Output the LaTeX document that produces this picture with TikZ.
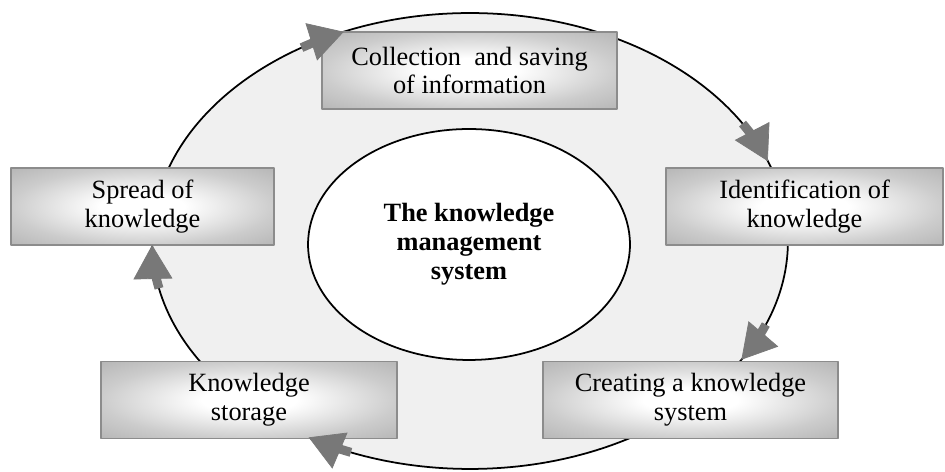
\documentclass[tikz,border=0pt]{standalone}
\usepackage{fontspec}
\setmainfont{Liberation Serif}
\usepackage{tikz}
\usetikzlibrary{shapes.geometric,arrows.meta,calc}
\definecolor{eeeeee}{rgb}{0.94,0.94,0.94}
\definecolor{cccccc}{rgb}{0.8,0.8,0.8}
\definecolor{bbbbbb}{rgb}{0.71,0.71,0.71}
\definecolor{aaaaaa}{rgb}{0.55,0.55,0.55}
\definecolor{wwwwww}{rgb}{0.47,0.47,0.47}
% light in the middle, grey towards the edges of a box
\pgfdeclareradialshading{boxglow}{\pgfpoint{0bp}{0bp}}{color(0bp)=(white); color(8bp)=(white); color(25bp)=(cccccc); color(36bp)=(bbbbbb); color(50bp)=(bbbbbb)}

\begin{document}
\begin{tikzpicture}[line cap=round,line join=round,x=0.02cm,y=0.02cm,
  font=\fontsize{15}{16.5}\selectfont,
  stagebox/.style={draw=aaaaaa,line width=0.8pt,shading=boxglow,minimum height=1.54cm,inner sep=0pt,align=center},
  flow/.style={draw=wwwwww,line width=0.18cm,line cap=butt,-{Triangle[length=0.68cm,width=0.78cm,line width=0.4pt]}}]
\useasboundingbox (0,0) rectangle (945,472);
\coordinate (mid) at (470,231);
% the cycle and its centre
\draw [line width=1pt,fill=eeeeee] (mid) ellipse [x radius=6.36cm,y radius=4.56cm];
\node [draw,ellipse,fill=white,line width=1pt,minimum width=6.44cm,minimum height=4.62cm,align=center,font=\fontsize{15}{16.5}\selectfont\bfseries] (kms) at (469,227.5) {The knowledge\\management\\system};
% stages
\node [stagebox,minimum width=5.9cm] (collect) at (469.5,401.5) {Collection\ \ and saving\\of information};
\node [stagebox,minimum width=5.54cm] (ident) at (804.5,265.5) {Identification of\\knowledge};
\node [stagebox,minimum width=5.9cm] (create) at (690.5,72) {Creating a knowledge\\system};
\node [stagebox,minimum width=5.92cm] (storage) at (249,72) {Knowledge\\storage};
\node [stagebox,minimum width=5.26cm] (spread) at (142.5,265.5) {Spread of\\knowledge};
% arrows along the ring, clockwise
\draw [flow] ($(mid)+(122:6.36cm and 4.56cm)$) arc [start angle=122,end angle=113.4,x radius=6.36cm,y radius=4.56cm];
\draw [flow] ($(mid)+(31:6.36cm and 4.56cm)$) arc [start angle=31,end angle=20.5,x radius=6.36cm,y radius=4.56cm];
\draw [flow] ($(mid)+(-21.5:6.36cm and 4.56cm)$) arc [start angle=-21.5,end angle=-31.4,x radius=6.36cm,y radius=4.56cm];
\draw [flow] ($(mid)+(248:6.36cm and 4.56cm)$) arc [start angle=248,end angle=239.5,x radius=6.36cm,y radius=4.56cm];
\draw [flow] ($(mid)+(192:6.36cm and 4.56cm)$) arc [start angle=192,end angle=181,x radius=6.36cm,y radius=4.56cm];
\end{tikzpicture}
\end{document}
